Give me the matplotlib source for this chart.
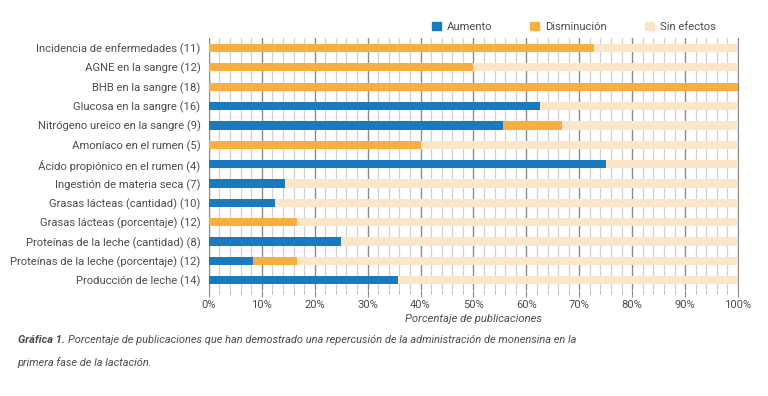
import matplotlib.pyplot as plt
from matplotlib.patches import Patch
from matplotlib.ticker import MultipleLocator, PercentFormatter

plt.rcParams['font.family'] = ['Roboto', 'DejaVu Sans']

labels = ['Incidencia de enfermedades (11)', 'AGNE en la sangre (12)', 'BHB en la sangre (18)',
          'Glucosa en la sangre (16)', 'Nitrógeno ureico en la sangre (9)', 'Amoníaco en el rumen (5)',
          'Ácido propiónico en el rumen (4)', 'Ingestión de materia seca (7)', 'Grasas lácteas (cantidad) (10)',
          'Grasas lácteas (porcentaje) (12)', 'Proteínas de la leche (cantidad) (8)',
          'Proteínas de la leche (porcentaje) (12)', 'Producción de leche (14)']
aumento = [0, 0, 0, 62.5, 55.6, 0, 75.0, 14.3, 12.5, 0, 25.0, 8.3, 35.7]
disminucion = [72.7, 50.0, 100.0, 0, 11.1, 40.0, 0, 0, 0, 16.7, 0, 8.3, 0]
sin_efectos = [100 - a - d for a, d in zip(aumento, disminucion)]

c_aum = '#1a7abf'
c_dis = '#f9ae40'
c_sin = '#fde6c8'
txt = '#4d4d4d'

fig = plt.figure(figsize=(7.68, 3.96), dpi=100)
fig.canvas.draw()
rend = fig.canvas.get_renderer()


def fit_size(s, target_px, **kw):
    # font size that gives the text the wanted width in pixels
    t = fig.text(0, 0, s, fontsize=10, **kw)
    w = t.get_window_extent(rend).width
    t.remove()
    return 10 * target_px / w


ylab_size = fit_size('Proteínas de la leche (porcentaje) (12)', 192)

ax = fig.add_axes([0.272, 0.268, 0.689, 0.635])

y = list(range(len(labels)))
left3 = [a + d for a, d in zip(aumento, disminucion)]
h = 0.42
ax.barh(y, aumento, height=h, color=c_aum, zorder=3)
ax.barh(y, disminucion, left=aumento, height=h, color=c_dis, zorder=3)
ax.barh(y, sin_efectos, left=left3, height=h, color=c_sin, zorder=3)

ax.set_xlim(0, 100)
ax.set_ylim(len(labels) - 0.5, -0.5)
ax.set_yticks(y)
ax.set_yticklabels(labels, fontsize=ylab_size, color=txt)
ax.xaxis.set_major_locator(MultipleLocator(10))
ax.xaxis.set_minor_locator(MultipleLocator(2))
ax.xaxis.set_major_formatter(PercentFormatter(decimals=0))
ax.tick_params(axis='x', which='major', length=5, color='#888888', labelsize=ylab_size, labelcolor=txt, pad=2)
ax.tick_params(axis='x', which='minor', length=3, color='#aaaaaa')
ax.tick_params(axis='y', length=0, pad=6)
ax.grid(axis='x', which='major', color='#8c8c8c', linewidth=1.0, zorder=0)
ax.grid(axis='x', which='minor', color='#d0d0d0', linewidth=0.9, zorder=0)
for s in ['top', 'bottom']:
    ax.spines[s].set_visible(False)
for s in ['left', 'right']:
    ax.spines[s].set_color('#8c8c8c')
ax.set_xlabel('Porcentaje de publicaciones', fontsize=ylab_size, style='italic', color=txt, labelpad=3)

handles = [Patch(color=c_aum), Patch(color=c_dis), Patch(color=c_sin)]
fig.legend(handles, ['Aumento', 'Disminución', 'Sin efectos'], loc='center', bbox_to_anchor=(0.747, 0.932),
           ncol=3, frameon=False, fontsize=ylab_size, handlelength=0.8, handleheight=0.8, columnspacing=3.4,
           handletextpad=0.5, labelcolor=txt)

cap1 = 'Porcentaje de publicaciones que han demostrado una repercusión de la administración de monensina en la'
cap_size = fit_size('Gráfica 1. ' + cap1, 552, style='italic')
t1 = fig.text(0.023, 0.133, 'Gráfica 1.', fontsize=cap_size, weight='bold', style='italic', color=txt)
bb = t1.get_window_extent(rend).transformed(fig.transFigure.inverted())
fig.text(bb.x1 + 0.004, 0.133, cap1, fontsize=cap_size, style='italic', color=txt)
fig.text(0.023, 0.075, 'primera fase de la lactación.', fontsize=cap_size, style='italic', color=txt)

fig.savefig('out.png', dpi=100)
